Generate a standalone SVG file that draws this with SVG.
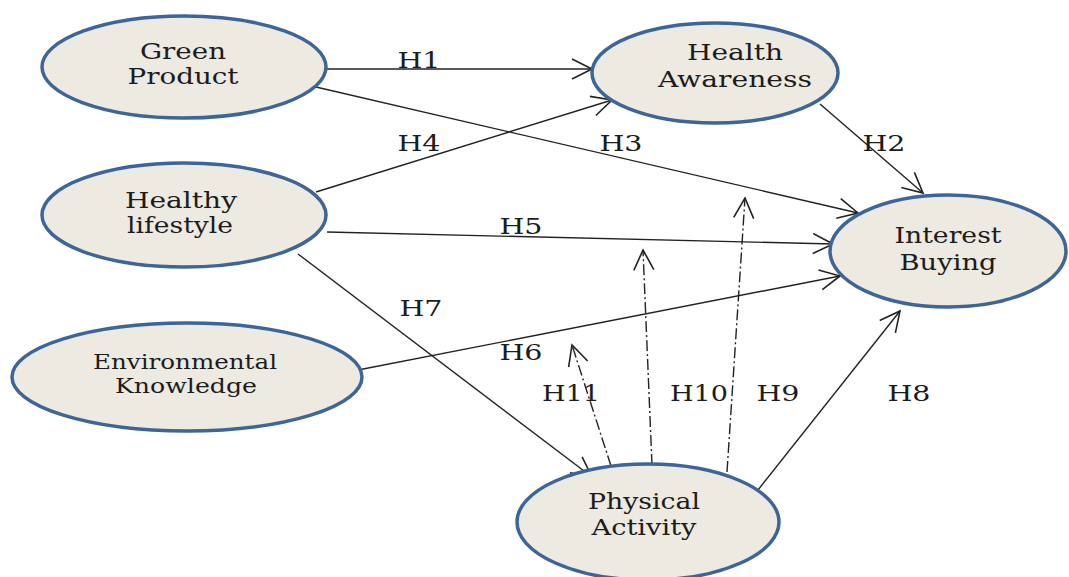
<svg xmlns="http://www.w3.org/2000/svg" width="1069" height="577" viewBox="0 0 1069 577">
<style>
.node ellipse{fill:#ECEAE1;stroke:#3E6597;stroke-width:3.5}
.node text{font-family:"DejaVu Serif","Liberation Serif",serif;font-size:22px;fill:#1c1c1c;text-anchor:middle}
.lbl{font-family:"DejaVu Serif","Liberation Serif",serif;font-size:22px;fill:#1c1c1c;text-anchor:middle}
.c{stroke:#222;stroke-width:1.4;fill:none;marker-end:url(#ah)}
.d{stroke:#222;stroke-width:1.4;fill:none;stroke-dasharray:11 3 2 3;marker-end:url(#ah)}
</style>
<defs>
<marker id="ah" markerUnits="userSpaceOnUse" markerWidth="24" markerHeight="22" refX="21" refY="11" orient="auto" viewBox="0 0 24 22">
<path d="M1,1 L21,11 L1,21" fill="none" stroke="#222" stroke-width="1.6"/>
</marker>
</defs>
<rect width="1069" height="577" fill="#fff"/>
<g id="connectors">
<line class="c" x1="327" y1="69" x2="592" y2="69"/>
<line class="c" x1="316" y1="87" x2="858" y2="213"/>
<line class="c" x1="316" y1="192" x2="612" y2="100"/>
<line class="c" x1="820" y1="104" x2="923" y2="193"/>
<line class="c" x1="327" y1="232" x2="833" y2="244"/>
<line class="c" x1="358" y1="370" x2="840" y2="276"/>
<line class="c" x1="298" y1="254" x2="592" y2="477"/>
<line class="c" x1="758" y1="490" x2="900" y2="311"/>
<line class="d" x1="611" y1="466" x2="572" y2="345"/>
<line class="d" x1="652" y1="465" x2="643" y2="250"/>
<line class="d" x1="727" y1="472" x2="745" y2="198"/>
</g>
<g id="labels">
<text class="lbl" x="419" y="68" textLength="43" lengthAdjust="spacingAndGlyphs">H1</text>
<text class="lbl" x="884" y="151" textLength="43" lengthAdjust="spacingAndGlyphs">H2</text>
<text class="lbl" x="621" y="151" textLength="43" lengthAdjust="spacingAndGlyphs">H3</text>
<text class="lbl" x="419" y="151" textLength="43" lengthAdjust="spacingAndGlyphs">H4</text>
<text class="lbl" x="521" y="234" textLength="43" lengthAdjust="spacingAndGlyphs">H5</text>
<text class="lbl" x="521" y="360" textLength="43" lengthAdjust="spacingAndGlyphs">H6</text>
<text class="lbl" x="421" y="316" textLength="43" lengthAdjust="spacingAndGlyphs">H7</text>
<text class="lbl" x="909" y="401" textLength="43" lengthAdjust="spacingAndGlyphs">H8</text>
<text class="lbl" x="778" y="401" textLength="43" lengthAdjust="spacingAndGlyphs">H9</text>
<text class="lbl" x="699" y="401" textLength="58" lengthAdjust="spacingAndGlyphs">H10</text>
<text class="lbl" x="571" y="401" textLength="58" lengthAdjust="spacingAndGlyphs">H11</text>
</g>
<g id="green-product" class="node">
<ellipse cx="184" cy="67" rx="142" ry="51"/>
<text x="183" y="59" textLength="86" lengthAdjust="spacingAndGlyphs">Green</text>
<text x="183" y="84" textLength="111" lengthAdjust="spacingAndGlyphs">Product</text>
</g>
<g id="health-awareness" class="node">
<ellipse cx="715" cy="73" rx="123" ry="50"/>
<text x="735" y="60" textLength="96" lengthAdjust="spacingAndGlyphs">Health</text>
<text x="735" y="87" textLength="154" lengthAdjust="spacingAndGlyphs">Awareness</text>
</g>
<g id="healthy-lifestyle" class="node">
<ellipse cx="184" cy="215" rx="142" ry="52"/>
<text x="181" y="208" textLength="112" lengthAdjust="spacingAndGlyphs">Healthy</text>
<text x="180" y="233" textLength="106" lengthAdjust="spacingAndGlyphs">lifestyle</text>
</g>
<g id="environmental-knowledge" class="node">
<ellipse cx="187" cy="377" rx="175" ry="54"/>
<text x="185" y="369" style="font-size:20px" textLength="184" lengthAdjust="spacingAndGlyphs">Environmental</text>
<text x="186" y="393" style="font-size:20px" textLength="142" lengthAdjust="spacingAndGlyphs">Knowledge</text>
</g>
<g id="interest-buying" class="node">
<ellipse cx="948" cy="251" rx="118" ry="56"/>
<text x="948" y="243" textLength="107" lengthAdjust="spacingAndGlyphs">Interest</text>
<text x="948" y="270" textLength="97" lengthAdjust="spacingAndGlyphs">Buying</text>
</g>
<g id="physical-activity" class="node">
<ellipse cx="648" cy="522" rx="131" ry="58"/>
<text x="644" y="509" textLength="112" lengthAdjust="spacingAndGlyphs">Physical</text>
<text x="644" y="535" textLength="105" lengthAdjust="spacingAndGlyphs">Activity</text>
</g>
</svg>
